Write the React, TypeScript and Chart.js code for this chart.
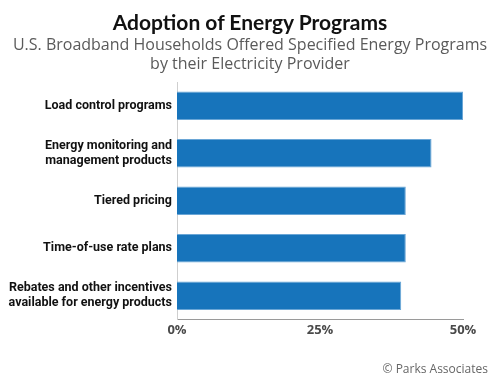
import React, { useEffect, useRef } from "react";
import { Chart, registerables } from "chart.js";

Chart.register(...registerables);

const titleText = "Adoption of Energy Programs";
const subtitleLines = [
  "U.S. Broadband Households Offered Specified Energy Programs",
  "by their Electricity Provider",
];
const sourceText = "© Parks Associates";

const categories: string[][] = [
  ["Load control programs"],
  ["Energy monitoring and", "management products"],
  ["Tiered pricing"],
  ["Time-of-use rate plans"],
  ["Rebates and other incentives", "available for energy products"],
];
const values = [50, 44.5, 40, 40, 39.2];
const tickValues = [0, 25, 50];

export default function App() {
  const ref = useRef<HTMLCanvasElement | null>(null);

  useEffect(() => {
    if (!ref.current) return;
    const chart = new Chart(ref.current, {
      type: "bar",
      data: {
        labels: categories,
        datasets: [
          {
            data: values,
            backgroundColor: "#1774bb",
            borderColor: "#6aa6d6",
            borderWidth: { top: 1, right: 1, bottom: 1, left: 0 },
            borderSkipped: "start",
            barPercentage: 0.6,
            categoryPercentage: 1,
          },
        ],
      },
      options: {
        indexAxis: "y",
        animation: false,
        responsive: false,
        maintainAspectRatio: false,
        layout: { padding: { top: 82, right: 37, bottom: 39, left: 0 } },
        plugins: {
          legend: { display: false },
          tooltip: { enabled: false },
          title: { display: false },
        },
        scales: {
          x: {
            min: 0,
            max: 50,
            afterBuildTicks: (s: any) => {
              s.ticks = tickValues.map((v) => ({ value: v }));
            },
            grid: { display: false, drawTicks: false },
            border: { display: true, color: "#9a9a9a", dash: [1, 2], width: 1 },
            ticks: {
              padding: 3,
              maxRotation: 0,
              color: "#4a4a4a",
              font: { family: "'Open Sans', sans-serif", size: 13, weight: "bold" },
              callback: (v: any) => v + "%",
            },
          },
          y: {
            afterFit: (s: any) => {
              s.width = 177;
            },
            grid: { display: false, drawTicks: false },
            border: { display: true, color: "#cfcfcf", width: 1 },
            ticks: {
              padding: 5,
              color: "#111111",
              font: {
                family: "Roboto, sans-serif",
                size: 12.5,
                weight: "bold",
                lineHeight: 1.2,
              },
            },
          },
        },
      },
    });
    return () => chart.destroy();
  }, []);

  return (
    <div
      style={{
        position: "absolute",
        left: 0,
        top: 0,
        width: 500,
        height: 380,
        background: "#ffffff",
        overflow: "hidden",
      }}
    >
      <canvas ref={ref} width={500} height={380} style={{ position: "absolute", left: 0, top: 0 }} />
      <div
        style={{
          position: "absolute",
          left: 0,
          top: 9,
          width: 500,
          textAlign: "center",
          fontFamily: "Lato, sans-serif",
          fontWeight: 700,
          fontSize: 21,
          color: "#111111",
          lineHeight: "26px",
        }}
      >
        {titleText}
      </div>
      <div
        style={{
          position: "absolute",
          left: 0,
          top: 35,
          width: 500,
          textAlign: "center",
          fontFamily: "'Open Sans', sans-serif",
          fontSize: 16,
          color: "#5a5a5a",
          lineHeight: "19px",
        }}
      >
        {subtitleLines.map((l, i) => (
          <div key={i}>{l}</div>
        ))}
      </div>
      <div
        style={{
          position: "absolute",
          right: 12,
          top: 360,
          fontFamily: "'Open Sans', sans-serif",
          fontSize: 12,
          color: "#666666",
        }}
      >
        {sourceText}
      </div>
    </div>
  );
}
